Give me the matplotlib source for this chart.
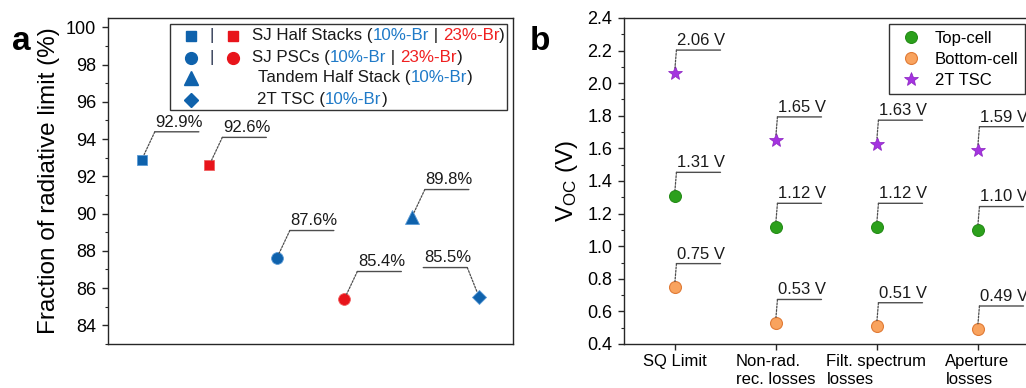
import matplotlib
matplotlib.use("Agg")
import matplotlib.pyplot as plt
from matplotlib.patches import Rectangle
from matplotlib.ticker import MultipleLocator, NullLocator
from matplotlib.transforms import offset_copy

plt.rcParams['font.family'] = ['Liberation Sans', 'DejaVu Sans']
plt.rcParams['font.size'] = 12

# panel a: fraction of the radiative limit
a_x = [1, 2, 3, 4, 5, 6]
a_vals = [92.9, 92.6, 87.6, 85.4, 89.8, 85.5]
a_markers = ['s', 's', 'o', 'o', '^', 'D']
a_sizes = [7.5, 7.5, 8.5, 8.5, 10, 7]
a_groups = ['10', '23', '10', '23', '10', '10']
a_side = ['r', 'r', 'r', 'r', 'r', 'l']

# panel b: Voc after each loss step
b_steps = ['SQ Limit', 'Non-rad.\nrec. losses', 'Filt. spectrum\nlosses', 'Aperture\nlosses']
b_top = [1.31, 1.12, 1.12, 1.10]
b_bottom = [0.75, 0.53, 0.51, 0.49]
b_tandem = [2.06, 1.65, 1.63, 1.59]

BLUE = '#0f62ac'
RED = '#e8141b'
TXT_BLUE = '#1f7ac8'
TXT_RED = '#f02020'
GREEN = '#2ca01c'
ORANGE = '#f9a35e'
PURPLE = '#a433e0'

fig = plt.figure(figsize=(10.26, 3.88), dpi=100)
ax1 = fig.add_axes([108 / 1026, 1 - 344 / 388, 405 / 1026, 326 / 388])
ax2 = fig.add_axes([624 / 1026, 1 - 344 / 388, 505 / 1026, 326 / 388])


def tag(ax, x, y, label, dx, dy, width, side='r'):
    # dotted leader from the marker to an underlined value label
    if side == 'r':
        x0, x1 = dx, dx + width
    else:
        x0, x1 = dx - width, dx
    start = offset_copy(ax.transData, fig=fig, x=dx, y=dy, units='points')
    left = offset_copy(ax.transData, fig=fig, x=x0, y=dy, units='points')
    right = offset_copy(ax.transData, fig=fig, x=x1, y=dy, units='points')
    ax.annotate('', xy=(x, y), xytext=(x, y), textcoords=start,
                arrowprops=dict(arrowstyle='-', color='0.3', lw=0.9,
                                ls=(0, (1.5, 1.2)), shrinkA=0, shrinkB=4))
    ax.annotate('', xy=(x, y), xycoords=left, xytext=(x, y), textcoords=right,
                arrowprops=dict(arrowstyle='-', color='0.3', lw=1.0,
                                shrinkA=0, shrinkB=0))
    ax.annotate(label, xy=(x, y), xytext=(x0 + 0.5, dy + 1.5),
                textcoords='offset points', ha='left', va='bottom',
                fontsize=12, color='0.1')


# ---- panel a ----
for x, v, m, s, g, side in zip(a_x, a_vals, a_markers, a_sizes, a_groups, a_side):
    c = BLUE if g == '10' else RED
    ax1.plot(x, v, marker=m, ms=s, color=c, mec='#5a9ad6' if g == '10' else '#f06060',
             mew=0.6, ls='none', zorder=3)
    if side == 'r':
        tag(ax1, x, v, f'{v:.1f}%', 9.4, 20, 31.7, 'r')
    else:
        tag(ax1, x, v, f'{v:.1f}%', -8.6, 21.5, 31.7, 'l')

ax1.set_xlim(0.5, 6.5)
ax1.set_ylim(83, 100.5)
ax1.xaxis.set_major_locator(NullLocator())
ax1.yaxis.set_major_locator(MultipleLocator(2))
ax1.yaxis.set_minor_locator(MultipleLocator(1))
ax1.set_ylabel('Fraction of radiative limit (%)', fontsize=17.5)
ax1.yaxis.set_label_coords(-0.118, 0.5)

# hand-built legend with two-coloured labels
ax1.add_patch(Rectangle((0.153, 0.718), 0.832, 0.264, transform=ax1.transAxes,
                        fill=False, ec='0.2', lw=1.0, zorder=4))
rows_y = [0.946, 0.878, 0.816, 0.749]
mk_x, bar_x, red_x = (191 - 108) / 405, (212 - 108) / 405, (233 - 108) / 405
leg_rows = [
    ('s', 7.5, True, 'SJ Half Stacks (', [('10%-Br', TXT_BLUE), (' | ', '0.1'), ('23%-Br', TXT_RED), (')', '0.1')], (252 - 108) / 405),
    ('o', 8.5, True, 'SJ PSCs (', [('10%-Br', TXT_BLUE), (' | ', '0.1'), ('23%-Br', TXT_RED), (')', '0.1')], (252 - 108) / 405),
    ('^', 10, False, 'Tandem Half Stack (', [('10%-Br', TXT_BLUE), (')', '0.1')], (258 - 108) / 405),
    ('D', 7.5, False, '2T TSC (', [('10%-Br', TXT_BLUE), (')', '0.1')], (257 - 108) / 405),
]
for ry, (m, s, pair, head, pieces, tx) in zip(rows_y, leg_rows):
    ax1.plot([mk_x], [ry], marker=m, ms=s, color=BLUE, ls='none',
             transform=ax1.transAxes, clip_on=False, zorder=5)
    if pair:
        ax1.plot([red_x], [ry], marker=m, ms=s, color=RED, ls='none',
                 transform=ax1.transAxes, clip_on=False, zorder=5)
        ax1.text(bar_x, ry, '|', transform=ax1.transAxes, ha='center',
                 va='center', fontsize=12, color='#2a3550')
    prev = ax1.text(tx, ry, head, transform=ax1.transAxes, ha='left',
                    va='center', fontsize=12.2, color='0.1')
    for txt, col in pieces:
        prev = ax1.annotate(txt, xy=(1, 0), xycoords=prev, ha='left',
                            va='bottom', fontsize=12.2, color=col)

# ---- panel b ----
b_x = list(range(1, len(b_steps) + 1))
ax2.plot(b_x, b_top, 'o', ms=8.6, color=GREEN, mec='#1f8812', mew=0.7,
         label='Top-cell', zorder=3)
ax2.plot(b_x, b_bottom, 'o', ms=8.6, color=ORANGE, mec='#e07a35', mew=0.8,
         label='Bottom-cell', zorder=3)
ax2.plot(b_x, b_tandem, '*', ms=10.5, color=PURPLE, mec='#8a20c0', mew=0.5,
         label='2T TSC', zorder=3)
for series in (b_top, b_bottom, b_tandem):
    for x, v in zip(b_x, series):
        tag(ax2, x, v, f'{v:.2f} V', 1.4, 16.8, 31.7, 'r')

ax2.set_xlim(0.5, 5.5)
ax2.set_ylim(0.4, 2.4)
ax2.set_xticks(b_x)
ax2.set_xticklabels(b_steps)
for lab in ax2.get_xticklabels():
    lab.set_multialignment('left')
ax2.yaxis.set_major_locator(MultipleLocator(0.2))
ax2.yaxis.set_minor_locator(MultipleLocator(0.1))
ax2.yaxis.set_major_formatter(plt.FormatStrFormatter('%.1f'))
ax2.set_ylabel(r'$\mathregular{V_{OC}}$ (V)', fontsize=17.5)
ax2.yaxis.set_label_coords(-0.087, 0.5)
ax2.legend(loc='upper left', bbox_to_anchor=(0.525, 0.982), frameon=True,
           fancybox=False, edgecolor='0.2', framealpha=1, fontsize=12,
           handletextpad=0.52, handlelength=1.83, borderpad=0.4,
           labelspacing=0.36, borderaxespad=0)

for ax in (ax1, ax2):
    for sp in ax.spines.values():
        sp.set_linewidth(1.0)
        sp.set_color('0.15')
    ax.tick_params(which='major', direction='out', length=4.5, width=1.0,
                   labelsize=13, pad=4, color='0.15')
    ax.tick_params(which='minor', direction='out', length=2.5, width=0.8,
                   color='0.15')
    ax.tick_params(axis='x', which='minor', bottom=False)
ax2.tick_params(axis='x', labelsize=12, pad=3)

fig.text(12 / 1026, 1 - 50 / 388, 'a', fontsize=24, fontweight='bold',
         va='baseline')
fig.text(530 / 1026, 1 - 50 / 388, 'b', fontsize=24, fontweight='bold',
         va='baseline')

fig.savefig('out.png', dpi=100)
